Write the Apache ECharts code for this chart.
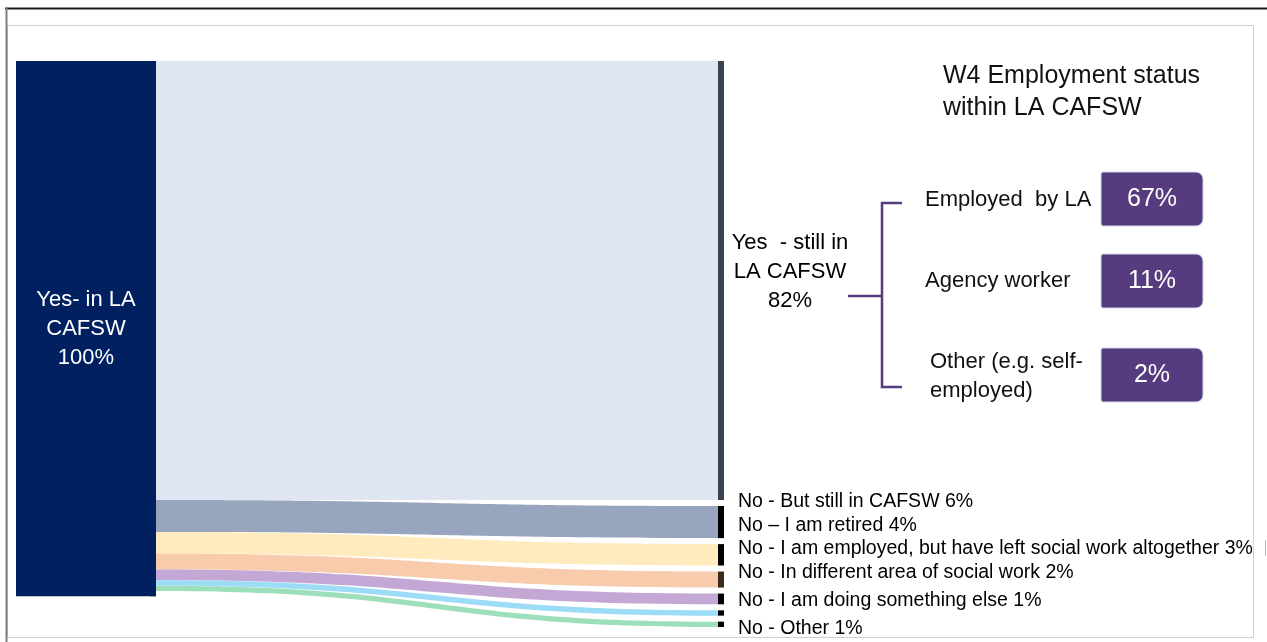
<!DOCTYPE html>
<html><head><meta charset="utf-8">
<script src="https://cdn.jsdelivr.net/npm/echarts@6/dist/echarts.min.js"></script>
<style>html,body{margin:0;padding:0;background:#fff}#c{width:1267px;height:642px}</style>
</head><body><div id="c"></div>
<script>
// ---------- data ----------
const sourceName = 'Yes- in LA CAFSW';
const sourceValue = 100;
const outcomeNames = [
  'Yes - still in LA CAFSW',
  'No - But still in CAFSW',
  'No \u2013 I am retired',
  'No - I am employed, but have left social work altogether',
  'No - In different area of social work',
  'No - I am doing something else',
  'No - Other'
];
const outcomeValues = [82, 6, 4, 3, 2, 1, 1];
const breakdownLabels = ['Employed  by LA', 'Agency worker', 'Other (e.g. self-\nemployed)'];
const breakdownValues = [67, 11, 2];
const titleText = 'W4 Employment status\nwithin LA CAFSW';

// ---------- styles ----------
const FONT = "'Liberation Sans', Arial, Helvetica, sans-serif";
const sourceColor = '#002060';
const linkColors = ['#dfe6f1', '#97a5be', '#ffebbd', '#f8cbad', '#c3a8d6', '#9cdcf6', '#9ddfbb'];
const nodeColors = ['#3c4350', '#000000', '#000000', '#3a2a1a', '#000000', '#000000', '#000000'];
const labelShiftY = [-9, -20, -29, -31, -26, -12, 4];
const purple = '#563b7e';

const nodes = [{
  name: sourceName, value: sourceValue,
  itemStyle: { color: sourceColor }, label: { show: false }
}];
outcomeNames.forEach((n, i) => {
  const nd = { name: n, itemStyle: { color: nodeColors[i] }, label: { offset: [0, labelShiftY[i]] } };
  if (i === 0) {
    nd.label = {
      align: 'center', distance: 0, offset: [66, labelShiftY[i]],
      fontSize: 22, lineHeight: 29,
      formatter: () => 'Yes  - still in\nLA CAFSW\n' + outcomeValues[0] + '%'
    };
  }
  nodes.push(nd);
});
const links = outcomeNames.map((n, i) => ({
  source: sourceName, target: n, value: outcomeValues[i],
  lineStyle: { color: linkColors[i], opacity: 1 }
}));

const option = {
  backgroundColor: '#ffffff',
  animation: false,
  series: [{
    type: 'sankey',
    left: 150, top: 61, width: 574, height: 566,
    nodeWidth: 6, nodeGap: 6, layoutIterations: 0,
    draggable: false,
    emphasis: { disabled: true },
    label: {
      position: 'right', distance: 14, color: '#000',
      fontFamily: FONT, fontSize: 19.5,
      formatter: p => p.name + ' ' + p.value + '%'
    },
    lineStyle: { curveness: 0.5 },
    data: nodes,
    links: links
  }]
};

const chart = echarts.init(document.getElementById('c'), null, { renderer: 'canvas' });
chart.setOption(option);

// left wide block based on the library layout of the source node
let blk = { y: 61, h: 535, right: 156 };
try {
  const sm = chart.getModel().getSeriesByIndex(0);
  const li = sm.layoutInfo;
  const lay = sm.getGraph().getNodeByIndex(0).getLayout();
  blk = { y: li.y + lay.y, h: lay.dy, right: li.x + lay.x + lay.dx };
} catch (e) {}

const graphics = [];
// frame
graphics.push({ type: 'line', shape: { x1: 5, y1: 8.5, x2: 1267, y2: 8.5 }, style: { stroke: '#1a1a1a', lineWidth: 2 }, z: 10 });
graphics.push({ type: 'line', shape: { x1: 6.5, y1: 8, x2: 6.5, y2: 642 }, style: { stroke: '#808080', lineWidth: 2 }, z: 10 });
graphics.push({ type: 'rect', shape: { x: 7.5, y: 25.5, width: 1246, height: 612 }, style: { fill: null, stroke: '#cfcfcf', lineWidth: 1 }, z: -1 });
graphics.push({ type: 'line', shape: { x1: 1265.5, y1: 540, x2: 1265.5, y2: 556 }, style: { stroke: '#bbbbbb', lineWidth: 1 } });

// source block
graphics.push({ type: 'rect', shape: { x: 16, y: blk.y, width: blk.right - 16, height: blk.h }, style: { fill: sourceColor }, z: 5 });
graphics.push({
  type: 'text', x: (16 + blk.right) / 2, y: blk.y + blk.h / 2, z: 6,
  style: {
    text: 'Yes- in LA\nCAFSW\n' + sourceValue + '%', fill: '#ffffff',
    font: '22px ' + FONT, lineHeight: 29, textAlign: 'center', textVerticalAlign: 'middle'
  }
});

// title
graphics.push({
  type: 'text', x: 943, y: 92, style: {
    text: titleText, fill: '#111', font: '25px ' + FONT, lineHeight: 32,
    textAlign: 'left', textVerticalAlign: 'middle'
  }
});

// bracket
graphics.push({ type: 'polyline', shape: { points: [[848, 296], [882, 296]] }, style: { stroke: purple, lineWidth: 2.5 } });
graphics.push({ type: 'polyline', shape: { points: [[902, 203], [882, 203], [882, 387], [902, 387]] }, style: { stroke: purple, lineWidth: 2.5, fill: null } });

// breakdown rows
const rowY = [200, 281, 376];
const labelX = [925, 925, 930];
const boxY = [172, 254, 348];
breakdownLabels.forEach((t, i) => {
  graphics.push({
    type: 'text', x: labelX[i], y: rowY[i], style: {
      text: t, fill: '#111', font: '22px ' + FONT, lineHeight: 29,
      textAlign: 'left', textVerticalAlign: 'middle'
    }
  });
  graphics.push({
    type: 'rect', shape: { x: 1101, y: boxY[i], width: 102, height: 54, r: [2, 7, 7, 2] },
    style: { fill: purple, stroke: '#d0d8e6', lineWidth: 1 }
  });
  graphics.push({
    type: 'text', x: 1152, y: boxY[i] + 27, z: 3, style: {
      text: breakdownValues[i] + '%', fill: '#ffffff', font: '25px ' + FONT,
      textAlign: 'center', textVerticalAlign: 'middle'
    }
  });
});

chart.setOption({ graphic: { elements: graphics } });
</script>
</body></html>
